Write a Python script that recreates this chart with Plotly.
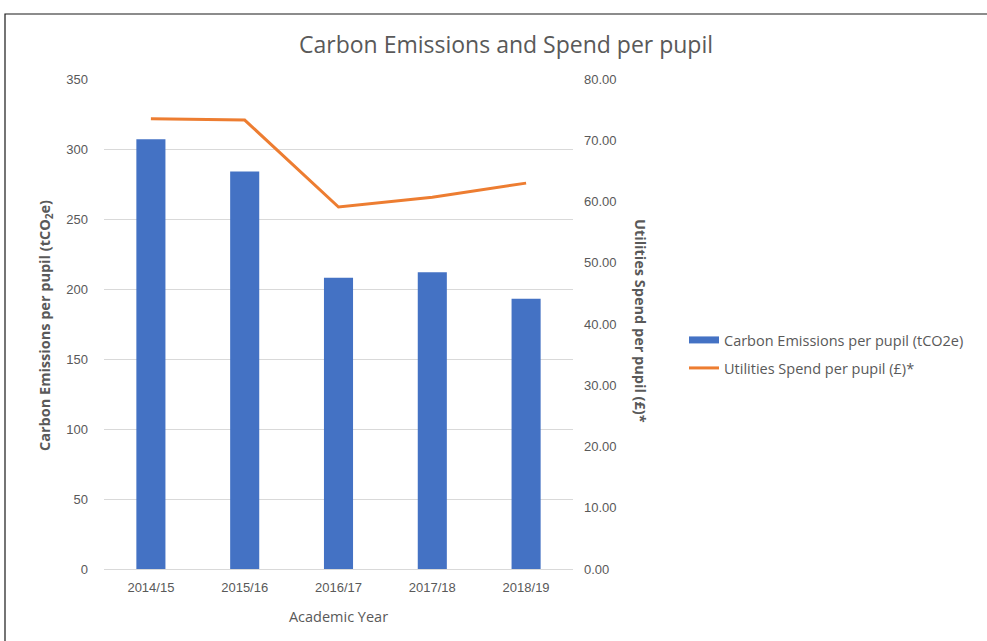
import plotly.graph_objects as go

years = ["2014/15", "2015/16", "2016/17", "2017/18", "2018/19"]
carbon_per_pupil = [307, 284, 208, 212, 193]          # tCO2e
utilities_spend_per_pupil = [73.5, 73.3, 59.1, 60.7, 63.0]  # £

left_ticks = [0, 50, 100, 150, 200, 250, 300, 350]
right_ticks = [0, 10, 20, 30, 40, 50, 60, 70, 80]

BLUE = "#4472C4"
ORANGE = "#ED7D31"
TEXT = "#595959"
GRID = "#D9D9D9"
FONT = "Open Sans"
TICKFONT = "Liberation Sans"

# plot area in pixels (used to place items in paper coordinates)
W, H = 987, 641
L, R, T, B = 104, 573, 79, 569
pw, ph = R - L, B - T


def px(x):
    return (x - L) / pw


def py(y):
    return (B - y) / ph


fig = go.Figure()

fig.add_trace(go.Bar(
    x=years, y=carbon_per_pupil, marker=dict(color=BLUE, line=dict(width=0)),
    name="Carbon Emissions per pupil (tCO2e)", showlegend=False, yaxis="y",
))
fig.add_trace(go.Scatter(
    x=[None], y=[None], mode="lines", line=dict(color=BLUE, width=7),
    name="Carbon Emissions per pupil (tCO2e)", legend="legend", yaxis="y",
))
fig.add_trace(go.Scatter(
    x=years, y=utilities_spend_per_pupil, mode="lines",
    line=dict(color=ORANGE, width=3), name="Utilities Spend per pupil (£)*",
    legend="legend2", yaxis="y2",
))

fig.update_layout(
    width=W, height=H,
    margin=dict(l=L, r=W - R, t=T, b=H - B),
    paper_bgcolor="white", plot_bgcolor="white",
    font=dict(family=FONT, color=TEXT, size=12),
    bargap=0.69,
    xaxis=dict(
        showgrid=False, showline=True, linecolor=GRID, linewidth=1,
        ticks="", tickfont=dict(family=TICKFONT, size=13, color=TEXT), ticklabelstandoff=6,
        title=dict(text="Academic Year", font=dict(size=14.5, color=TEXT), standoff=18),
    ),
    yaxis=dict(
        range=[0, 350], tickvals=left_ticks, showgrid=True, gridcolor=GRID,
        zeroline=False, showline=False, ticks="", ticklabelstandoff=15,
        tickfont=dict(family=TICKFONT, size=13, color=TEXT),
    ),
    yaxis2=dict(
        range=[0, 80], tickvals=right_ticks, tickformat=".2f", overlaying="y",
        side="right", showgrid=False, zeroline=False, showline=False, ticks="",
        ticklabelstandoff=10, tickfont=dict(family=TICKFONT, size=13, color=TEXT),
    ),
    legend=dict(
        x=px(684), y=py(340), xanchor="left", yanchor="middle",
        font=dict(size=14.5, color=TEXT), bgcolor="rgba(0,0,0,0)",
    ),
    legend2=dict(
        x=px(684), y=py(368), xanchor="left", yanchor="middle",
        font=dict(size=14.5, color=TEXT), bgcolor="rgba(0,0,0,0)",
    ),
    annotations=[
        dict(text="Carbon Emissions and Spend per pupil", xref="paper", yref="paper",
             x=px(506), y=py(44), showarrow=False, xanchor="center", yanchor="middle",
             font=dict(size=23, color=TEXT)),
        dict(text="<b>Carbon Emissions per pupil (tCO<sub>2</sub>e)</b>", xref="paper",
             yref="paper", x=px(45), y=py(326), showarrow=False, textangle=-90,
             xanchor="center", yanchor="middle", font=dict(size=14.5, color=TEXT)),
        dict(text="<b>Utilities Spend per pupil (£)*</b>", xref="paper", yref="paper",
             x=px(641), y=py(321), showarrow=False, textangle=90,
             xanchor="center", yanchor="middle", font=dict(size=14.5, color=TEXT)),
    ],
    shapes=[
        dict(type="rect", xref="paper", yref="paper", x0=px(5), y0=py(14),
             x1=px(W + 20), y1=py(H + 20), line=dict(color="#1a1a1a", width=1.2),
             fillcolor="rgba(0,0,0,0)", layer="above"),
    ],
)

fig.write_html("out.html")
